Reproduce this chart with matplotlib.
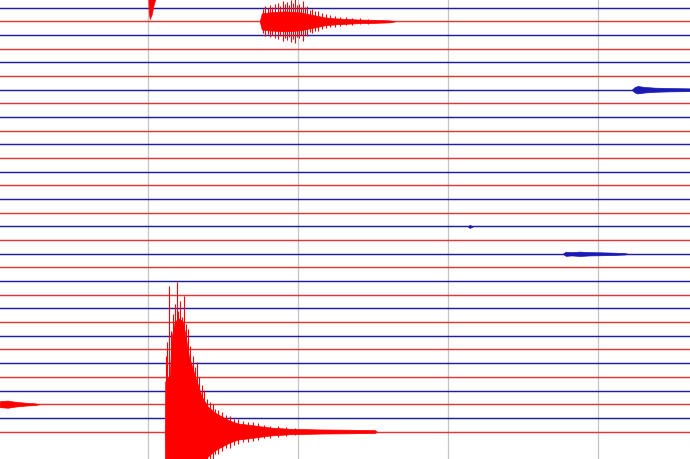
import matplotlib
matplotlib.use('Agg')
import matplotlib.pyplot as plt

# helicorder rows: row -1 is only partly visible at the top edge
rows = list(range(-1, 32))
row_colors = {0: '#1f1f9e', 1: '#d93a3a'}   # even rows blue, odd rows red
event_colors = {0: '#1a1ab4', 1: '#ff0000'}
minute_marks = [0, 60, 120, 180]           # seconds

# events: time (s) and half amplitude (in row spacings)
ev_top_row = -1
ev_top_t = [0.0, 0.2, 0.6, 1.4, 2.2, 3.0, 4.6, 8.6, 10.6]
ev_top_amp = [0, 1.32, 1.83, 1.47, 0.73, 0.29, 0.11, 0.06, 0]

ev_a_row = 1
ev_a_t = [44.6, 45.4, 48.6, 54.6, 60.6, 64.6, 67.8, 70.6, 74.6, 78.6, 84.6, 90.6, 96.6, 98.6]
ev_a_amp = [0, 0.59, 0.66, 0.73, 0.66, 0.51, 0.4, 0.29, 0.22, 0.18, 0.13, 0.11, 0.07, 0]
ev_a_spike_t = [45.8, 46.6, 47.8, 48.6, 49.4, 50.6, 51.8, 52.6, 53.8, 54.6, 55.4, 56.2,
                57.0, 57.8, 58.6, 59.4, 60.2, 61.0, 61.8, 62.6, 63.4, 64.6, 65.4, 66.6,
                67.8, 69.4, 71.0, 72.6, 74.6, 76.6, 79.0, 81.4, 84.6, 87.8]
ev_a_spike_amp = [0.88, 1.1, 0.95, 1.17, 1.02, 1.24, 1.32, 1.1, 1.46, 1.24, 1.39, 1.17,
                  1.54, 1.32, 1.61, 1.17, 1.24, 1.02, 1.46, 1.02, 1.1, 0.8, 0.88, 0.73,
                  0.73, 0.59, 0.51, 0.44, 0.4, 0.33, 0.29, 0.26, 0.22, 0.18]

ev_b_row = 6
ev_b_t = [193.4, 194.6, 195.8, 198.6, 202.6, 208.6, 216.6]
ev_b_amp = [0, 0.2, 0.27, 0.2, 0.15, 0.12, 0.1]

ev_c_row = 16
ev_c_t = [127.8, 128.6, 129.8]
ev_c_amp = [0, 0.11, 0]

ev_d_row = 18
ev_d_t = [165.8, 167.0, 169.4, 172.6, 176.6, 180.6, 186.6, 190.6, 191.8]
ev_d_amp = [0, 0.15, 0.12, 0.16, 0.12, 0.11, 0.08, 0.05, 0]

ev_e_row = 29
ev_e_t = [-59.4, -56.2, -53.4, -49.4, -45.4, -43.4]
ev_e_amp = [0.22, 0.26, 0.18, 0.11, 0.06, 0]

ev_main_row = 31
ev_main_t = [6.6, 6.8, 8.6, 9.4, 10.6, 12.2, 13.8, 15.0, 16.2, 18.6, 21.4, 23.8,
             26.6, 29.4, 32.6, 35.8, 42.6, 48.6, 56.6, 68.6, 80.6, 90.6, 91.4]
ev_main_amp = [0, 3.66, 4.1, 6.95, 8.05, 8.27, 8.05, 6.95, 5.56, 4.1, 2.56, 1.83,
               1.39, 1.1, 0.8, 0.59, 0.44, 0.29, 0.2, 0.15, 0.13, 0.1, 0]
ev_main_spike_t = [7.0, 7.4, 8.2, 9.0, 9.8, 10.6, 11.4, 11.8, 12.6, 13.4, 14.2, 15.0,
                   15.8, 16.6, 17.8, 18.6, 19.4, 20.2, 21.4, 22.2, 23.4, 24.6, 25.8, 26.6,
                   27.8, 29.4, 31.0, 32.6, 34.2, 35.8, 37.8, 39.8, 41.8, 43.8, 46.2, 48.6,
                   51.8, 55.0, 58.6]
ev_main_spike_amp = [5.49, 6.58, 10.68, 7.32, 8.63, 9.36, 10.9, 8.78, 9.58, 8.41, 9.88, 7.9,
                     7.53, 6.22, 5.56, 4.75, 5.12, 4.02, 3.37, 3.07, 2.41, 2.19, 1.98, 1.68,
                     1.61, 1.46, 1.24, 1.17, 0.95, 0.88, 0.8, 0.73, 0.66, 0.59, 0.51, 0.44,
                     0.37, 0.33, 0.26]


def draw_event(ax, row, t, amp, spike_t=None, spike_amp=None):
    color = event_colors[row % 2]
    lower = [row - a for a in amp]
    upper = [row + a for a in amp]
    ax.fill_between(t, lower, upper, color=color, lw=0.5, edgecolor=color, zorder=3)
    if spike_t:
        ax.vlines(spike_t, [row - a for a in spike_amp], [row + a for a in spike_amp],
                  color=color, lw=0.8, zorder=3)


fig = plt.figure(figsize=(6.9, 4.6), dpi=100)
ax = fig.add_axes([0, 0, 1, 1])
ax.set_xlim(-59.3, 216.7)
ax.set_ylim(33.01, -0.636)
ax.axis('off')

for m in minute_marks:
    ax.axvline(m, color='#c4c4c4', lw=0.9, zorder=1)

for r in rows:
    ax.axhline(r, color=row_colors[r % 2], lw=1.05, zorder=2)

draw_event(ax, ev_top_row, ev_top_t, ev_top_amp)
draw_event(ax, ev_a_row, ev_a_t, ev_a_amp, ev_a_spike_t, ev_a_spike_amp)
draw_event(ax, ev_b_row, ev_b_t, ev_b_amp)
draw_event(ax, ev_c_row, ev_c_t, ev_c_amp)
draw_event(ax, ev_d_row, ev_d_t, ev_d_amp)
draw_event(ax, ev_e_row, ev_e_t, ev_e_amp)
draw_event(ax, ev_main_row, ev_main_t, ev_main_amp, ev_main_spike_t, ev_main_spike_amp)

fig.savefig('out.png', dpi=100, facecolor='white')
